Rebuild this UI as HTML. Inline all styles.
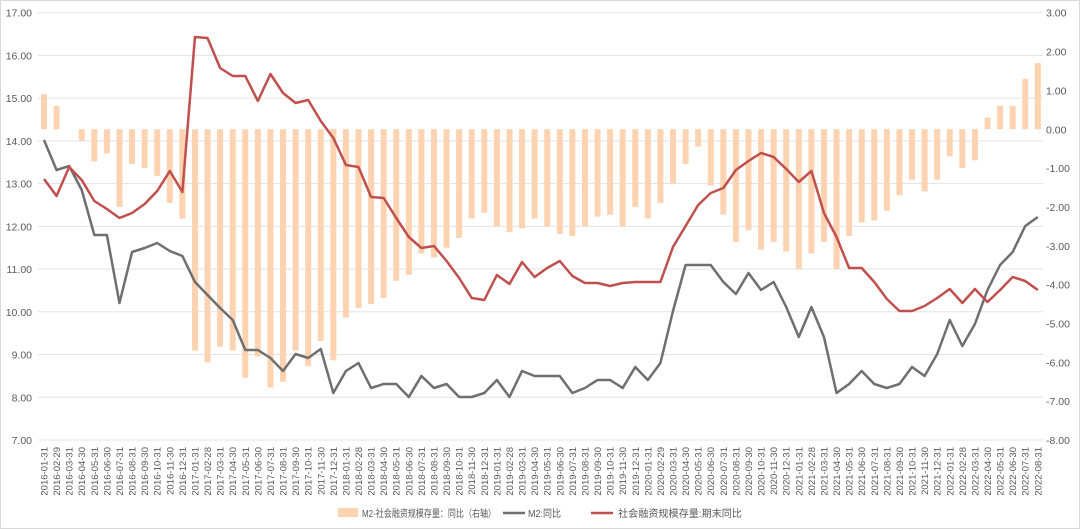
<!DOCTYPE html>
<html><head><meta charset="utf-8"><style>
html,body{margin:0;padding:0;background:#fff}
svg{display:block;font-family:"Liberation Sans","Noto Sans CJK SC",sans-serif}
</style></head><body>
<svg id="s" width="1080" height="529" xmlns="http://www.w3.org/2000/svg"></svg>
<script>
const s=document.getElementById('s');let h='';
h+='<rect x="0.5" y="0.5" width="1079" height="528" fill="#fff" stroke="#d9d9d9"/>';
const L=[17,16,15,14,13,12,11,10,9,8,7];
L.forEach((v,i)=>{const y=12.7+i*42.73;h+=`<line x1="38" x2="1043" y1="${y}" y2="${y}" stroke="#e3e3e3" stroke-width="1"/>`;h+=`<text x="32" y="${y+4}" font-size="10.5" fill="#595959" text-anchor="end">${v.toFixed(2)}</text>`;});
for(let i=0;i<12;i++){const v=3-i;const y=12.7+i*38.85;h+=`<text x="1046" y="${y+4}" font-size="10.5" fill="#595959">${v.toFixed(2)}</text>`;}
const bars=[0.9,0.6,0,-0.3,-0.83,-0.62,-2.0,-0.9,-1.0,-1.2,-1.9,-2.3,-5.7,-6.0,-5.6,-5.7,-6.4,-5.85,-6.65,-6.5,-5.7,-6.1,-5.45,-5.95,-4.85,-4.6,-4.5,-4.35,-3.9,-3.75,-3.2,-3.3,-3.05,-2.8,-2.3,-2.15,-2.5,-2.65,-2.55,-2.3,-2.5,-2.7,-2.75,-2.5,-2.25,-2.2,-2.5,-2.0,-2.3,-1.9,-1.4,-0.9,-0.45,-1.45,-2.2,-2.9,-2.6,-3.1,-2.9,-3.15,-3.6,-3.2,-2.9,-3.6,-2.75,-2.4,-2.35,-2.1,-1.7,-1.3,-1.6,-1.3,-0.7,-1.0,-0.8,0.3,0.6,0.6,1.3,1.7];
const g=[140,170,166,190,235,235,303,252,248,243,251,256,282,295,308,320,350,350,358,371,354,358,349,393,371,363,388,384,384,397,376,388,384,397,397,393,380,397,371,376,376,376,393,388,380,380,388,367,380,363,311,265,265,265,282,294,273,290,282,307,337,307,337,393,384,371,384,388,384,367,376,354,320,346,324,290,265,252,226,217];
const r=[179,196,167,180,201,209,218,213,204,191,171,192,37,38,68,76,76,101,74,93,103,100,121,138,165,167,197,198,218,237,248,246,261,278,298,300,275,284,262,277,268,261,276,283,283,286,283,282,282,282,247,226,205,193,188,170,161,153,157,169,182,171,213,237,268,268,282,299,311,311,306,298,289,303,289,302,290,277,281,290];
const X=i=>44+i*12.58, Z=129.2;
bars.forEach((v,i)=>{const y=Z-v*38.85;const t=Math.min(y,Z),hh=Math.abs(y-Z);if(hh>0.3)h+=`<rect x="${X(i)-3}" y="${t}" width="6" height="${hh}" fill="#fdd3b1"/>`;});
h+=`<polyline fill="none" stroke="#6f6f6f" stroke-width="2.5" stroke-linejoin="round" points="${g.map((y,i)=>X(i)+','+y).join(' ')}"/>`;
h+=`<polyline fill="none" stroke="#c0504d" stroke-width="2.5" stroke-linejoin="round" points="${r.map((y,i)=>X(i)+','+y).join(' ')}"/>`;
const m=[31,29,31,30,31,30,31,31,30,31,30,31];
for(let i=0;i<80;i++){const yr=2016+Math.floor(i/12),mo=i%12;let d=m[mo];if(mo==1)d=(yr%4==0)?29:28;const lab=`${yr}-${String(mo+1).padStart(2,'0')}-${d}`;const x=X(i)+3.5;h+=`<text transform="translate(${x},447) rotate(-90)" font-size="9.5" fill="#595959" text-anchor="end">${lab}</text>`;}
h+='<rect x="338" y="508" width="20" height="9" fill="#fdd3b1"/><text x="362" y="517" font-size="10" fill="#595959" textLength="134" lengthAdjust="spacingAndGlyphs">M2-社会融资规模存量：同比（右轴）</text>';
h+='<line x1="503" x2="525" y1="513" y2="513" stroke="#6f6f6f" stroke-width="2.5"/><text x="528" y="517" font-size="10" fill="#595959" textLength="33" lengthAdjust="spacingAndGlyphs">M2:同比</text>';
h+='<line x1="591" x2="613" y1="513" y2="513" stroke="#c0504d" stroke-width="2.5"/><text x="618" y="517" font-size="10" fill="#595959" textLength="124" lengthAdjust="spacingAndGlyphs">社会融资规模存量:期末同比</text>';
s.innerHTML=h;
</script>
</body></html>
